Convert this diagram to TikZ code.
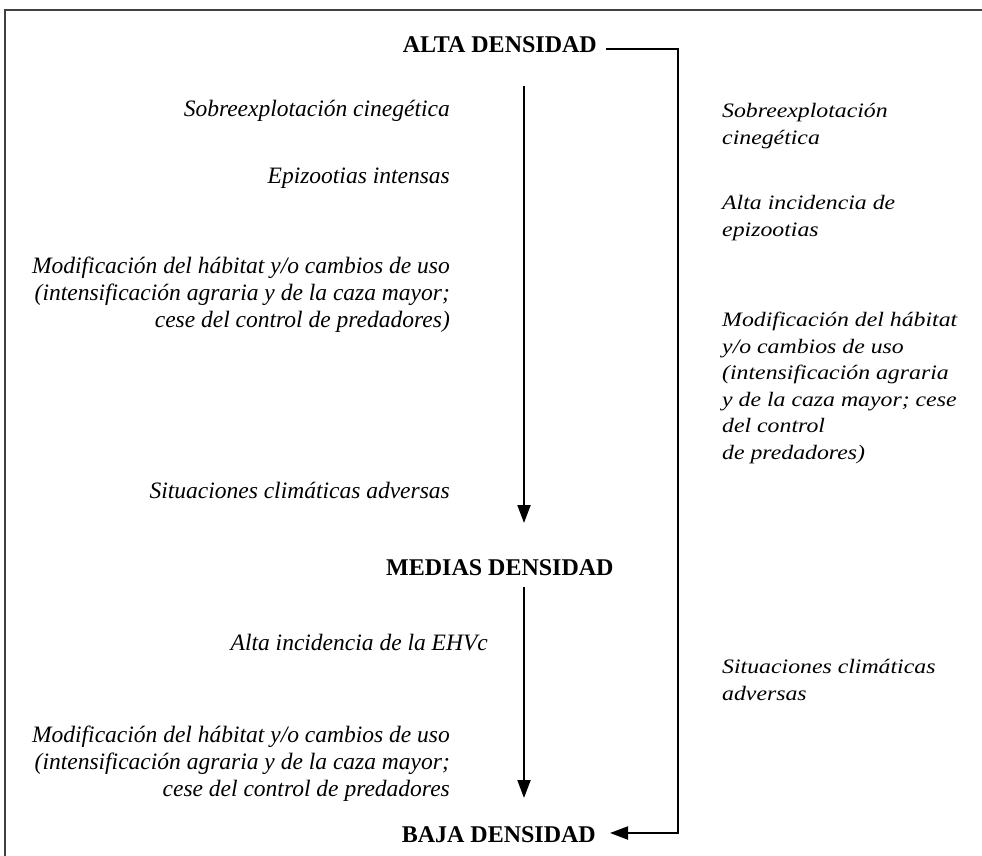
\documentclass[tikz,border=0pt]{standalone}
\usepackage{fontspec}
\setmainfont{Liberation Serif}
\newfontfamily\wideserif{Liberation Serif}[FakeStretch=1.16]
\usetikzlibrary{arrows.meta}
\begin{document}
\begin{tikzpicture}[x=1pt,y=-1pt,
  head/.style={font=\fontsize{24}{28}\selectfont\bfseries, inner sep=0pt},
  leftcause/.style={font=\fontsize{23.5}{27}\selectfont\itshape, align=right, anchor=base east, inner sep=0pt},
  rightcause/.style={font=\wideserif\fontsize{20.5}{26.5}\selectfont\itshape, align=left, anchor=base west, inner sep=0pt},
  flow/.style={line width=2pt, -{Triangle[length=18pt,width=13pt]}},
  link/.style={line width=2pt},
  frame/.style={line width=1.5pt, draw=black!75}]
\useasboundingbox (0,0) rectangle (982,856);
\draw[frame] (982,10) -- (5,10) -- (5,856);

% headings
\node[head, anchor=base east] (alta) at (597,53) {ALTA DENSIDAD};
\node[head, anchor=base west] (medias) at (386,575) {MEDIAS DENSIDAD};
\node[head, anchor=base east] (baja) at (596,842) {BAJA DENSIDAD};

% vertical arrows
\coordinate (a1s) at (524,86);
\coordinate (a1e) at (524,523);
\coordinate (a2s) at (524,587);
\coordinate (a2e) at (524,798);
\draw[flow] (a1s) -- (a1e);
\draw[flow] (a2s) -- (a2e);

% right bypass connector
\coordinate (turnT) at (678,49);
\coordinate (turnB) at (678,833);
\draw[link, -{Triangle[length=18pt,width=13pt]}]
  ([shift={(9,-4)}]alta.base east) -- (turnT) -- (turnB) -- ([shift={(14,-9)}]baja.base east);

% left column causes (base anchor = baseline of the last line)
\node[leftcause] (l1) at (450,117) {Sobreexplotación cinegética};
\node[leftcause] (l2) at (450,183) {Epizootias intensas};
\node[leftcause] (l3) at (450,327) {Modificación del hábitat y/o cambios de uso\\(intensificación agraria y de la caza mayor;\\cese del control de predadores)};
\node[leftcause] (l4) at (450,498) {Situaciones climáticas adversas};
\node[leftcause] (l5) at (488,650) {Alta incidencia de la EHVc};
\node[leftcause] (l6) at (450,796) {Modificación del hábitat y/o cambios de uso\\(intensificación agraria y de la caza mayor;\\cese del control de predadores};

% right column causes (base anchor = baseline of the last line)
\node[rightcause] (r1) at (722,144) {Sobreexplotación\\cinegética};
\node[rightcause] (r2) at (722,236) {Alta incidencia de\\epizootias};
\node[rightcause] (r3) at (722,459) {Modificación del hábitat\\y/o cambios de uso\\(intensificación agraria\\y de la caza mayor; cese\\del control\\de predadores)};
\node[rightcause] (r4) at (722,700) {Situaciones climáticas\\adversas};
\end{tikzpicture}
\end{document}
